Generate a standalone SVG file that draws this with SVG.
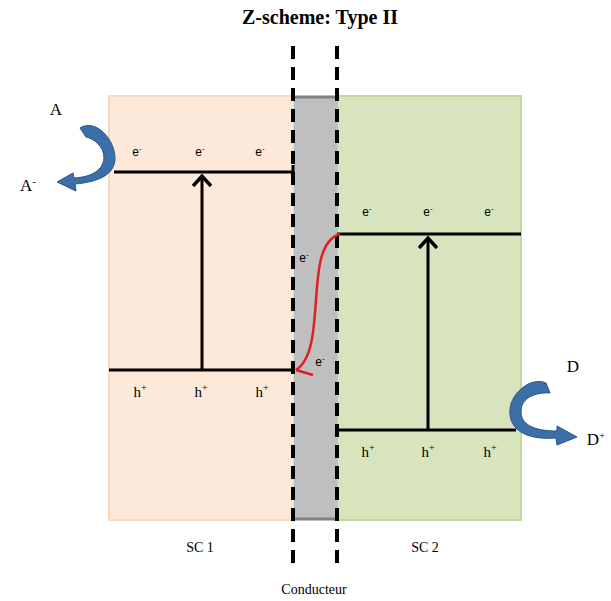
<svg xmlns="http://www.w3.org/2000/svg" width="611" height="601" viewBox="0 0 611 601">
<defs>
<style>
.serif{font-family:"Liberation Serif","DejaVu Serif",serif;fill:#000}
.sans{font-family:"Liberation Sans",Arial,sans-serif;fill:#000;font-size:12px}
.lvl{stroke:#000;stroke-width:3;fill:none}
.dash{stroke:#000;stroke-width:4;stroke-dasharray:13 8;fill:none}
.blue{fill:#3c6fa8;stroke:#2a5588;stroke-width:1}
</style>
<marker id="ah" viewBox="0 0 20 20" refX="16" refY="10" markerWidth="20" markerHeight="20" markerUnits="userSpaceOnUse" orient="auto">
<path d="M6,1 L16,10 L6,19" fill="none" stroke="#000" stroke-width="3.5"/>
</marker>
</defs>
<rect width="611" height="601" fill="#fff"/>
<text class="serif" x="320" y="24" font-size="20" font-weight="bold" text-anchor="middle">Z-scheme: Type II</text>

<g id="sc1">
<rect x="109" y="96" width="185" height="424" fill="#fde9d9" stroke="#f7d9c2" stroke-width="2"/>
<text class="serif" x="200" y="552" font-size="14" text-anchor="middle">SC 1</text>
</g>
<g id="sc2">
<rect x="337" y="96" width="184" height="424" fill="#d7e4bd" stroke="#c3d69b" stroke-width="2"/>
<text class="serif" x="425" y="552" font-size="14" text-anchor="middle">SC 2</text>
</g>
<g id="conducteur">
<rect x="294" y="96" width="43" height="424" fill="#bfbfbf"/>
<line x1="294" y1="97" x2="337" y2="97" stroke="#808080" stroke-width="3"/>
<line x1="294" y1="519" x2="337" y2="519" stroke="#808080" stroke-width="3"/>
<text class="serif" x="314" y="594" font-size="14" text-anchor="middle">Conducteur</text>
</g>

<g id="levels">
<path class="lvl" d="M114,172 H293 V165"/>
<line class="lvl" x1="109" y1="370" x2="293" y2="370"/>
<line class="lvl" x1="337" y1="234" x2="521" y2="234"/>
<line class="lvl" x1="337" y1="430" x2="516" y2="430"/>
</g>

<g id="labels">
<text class="sans" x="137" y="156" text-anchor="middle">e<tspan dy="-5" font-size="8">-</tspan></text>
<text class="sans" x="200" y="156" text-anchor="middle">e<tspan dy="-5" font-size="8">-</tspan></text>
<text class="sans" x="260" y="156" text-anchor="middle">e<tspan dy="-5" font-size="8">-</tspan></text>
<text class="sans" x="367" y="216" text-anchor="middle">e<tspan dy="-5" font-size="8">-</tspan></text>
<text class="sans" x="428" y="216" text-anchor="middle">e<tspan dy="-5" font-size="8">-</tspan></text>
<text class="sans" x="489" y="216" text-anchor="middle">e<tspan dy="-5" font-size="8">-</tspan></text>
<text class="sans" x="304" y="262" text-anchor="middle">e<tspan dy="-5" font-size="8">-</tspan></text>
<text class="sans" x="320" y="366" text-anchor="middle">e<tspan dy="-5" font-size="8">-</tspan></text>
<text class="serif" x="140" y="397" font-size="15" text-anchor="middle">h<tspan dy="-6" font-size="10">+</tspan></text>
<text class="serif" x="201" y="397" font-size="15" text-anchor="middle">h<tspan dy="-6" font-size="10">+</tspan></text>
<text class="serif" x="262" y="397" font-size="15" text-anchor="middle">h<tspan dy="-6" font-size="10">+</tspan></text>
<text class="serif" x="368" y="457" font-size="15" text-anchor="middle">h<tspan dy="-6" font-size="10">+</tspan></text>
<text class="serif" x="428" y="457" font-size="15" text-anchor="middle">h<tspan dy="-6" font-size="10">+</tspan></text>
<text class="serif" x="490" y="457" font-size="15" text-anchor="middle">h<tspan dy="-6" font-size="10">+</tspan></text>
</g>

<g id="dashes">
<line class="dash" x1="293" y1="46" x2="293" y2="566"/>
<line class="dash" x1="337" y1="46" x2="337" y2="566"/>
</g>

<g id="connectors">
<line x1="202" y1="370" x2="202" y2="176" stroke="#000" stroke-width="3" marker-end="url(#ah)"/>
<line x1="428" y1="430" x2="428" y2="238" stroke="#000" stroke-width="3" marker-end="url(#ah)"/>
<path d="M340,234 C320,240 318,270 316,300 C314,330 312,360 296,370 M296,370 L313,375" fill="none" stroke="#e02020" stroke-width="2.5"/>
<path class="blue" d="M80,128 C96,118 115,140 115,158 C115,175 98,182 75,184 L76,191 L57,182 L73,173 L74,178 C92,177 103,170 104,158 C104,145 92,138 86,137 Z"/>
<path class="blue" d="M546,383 C530,376 508,395 510,414 C511,432 530,440 556,438 L557,445 L577,437 L557,426 L557,431 C537,431 522,426 521,413 C520,398 535,392 550,393 Z"/>
</g>

<g id="species">
<text class="serif" x="56" y="115" font-size="17" text-anchor="middle">A</text>
<text class="serif" x="28" y="191" font-size="17" text-anchor="middle">A<tspan dy="-6" font-size="11">-</tspan></text>
<text class="serif" x="573" y="372" font-size="17" text-anchor="middle">D</text>
<text class="serif" x="596" y="445" font-size="17" text-anchor="middle">D<tspan dy="-6" font-size="11">+</tspan></text>
</g>
</svg>
